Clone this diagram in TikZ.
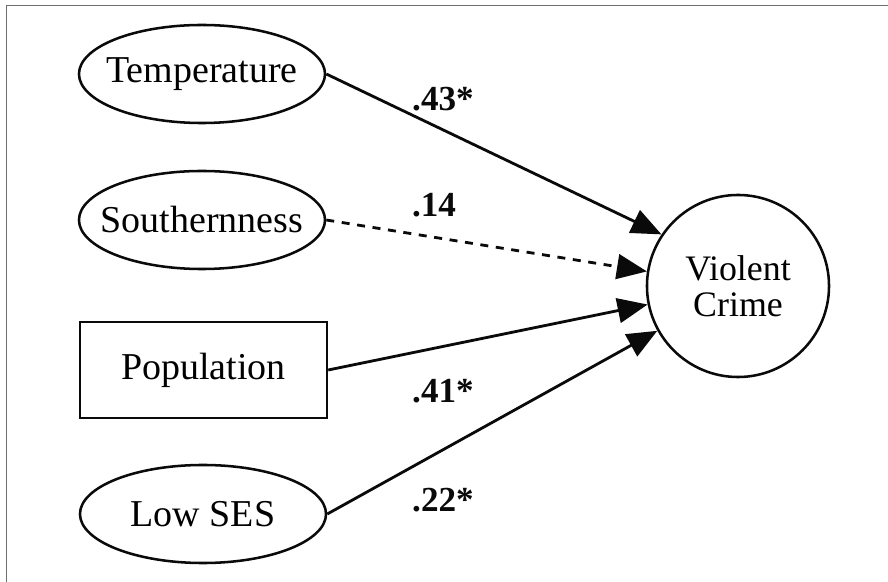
\documentclass[tikz,border=0pt]{standalone}
\usepackage{fontspec}
\setmainfont{Liberation Serif}
\usepackage{tikz}
\usetikzlibrary{shapes.geometric, arrows.meta, positioning}
\definecolor{mydark}{RGB}{10,10,10}
\definecolor{myframe}{RGB}{110,110,110}
\tikzset{
  latent/.style={ellipse, draw=mydark, fill=white,
    minimum width=6.15cm, minimum height=2.45cm, inner xsep=-1cm, inner ysep=0pt,
    font=\fontsize{27}{30}\selectfont, line width=1.8pt},
  observed/.style={rectangle, draw=mydark, fill=white,
    minimum width=6.17cm, minimum height=2.4cm, inner sep=0pt,
    font=\fontsize{27}{30}\selectfont, line width=1.8pt},
  outcome/.style={circle, draw=mydark, fill=white,
    minimum size=4.55cm, inner sep=0pt, align=center,
    font=\fontsize{25.5}{25.6}\selectfont, line width=1.8pt},
  arrow/.style={-{Triangle[length=0.75cm, width=0.62cm]}, line width=2pt, color=mydark},
  dasharrow/.style={arrow, dash pattern=on 0.2cm off 0.19cm},
  coef/.style={font=\fontsize{25}{28}\selectfont\bfseries, color=mydark, inner sep=0pt}
}

\begin{document}
\begin{tikzpicture}[x=0.025cm, y=-0.025cm]
  \useasboundingbox (0,0) rectangle (888,582);
  \clip (0,0) rectangle (888,582);
  % Frame
  \draw[color=myframe, line width=1.4pt] (6.5,5.5) rectangle (960,660);
  % Predictors
  \node[latent] (temp) at (202,74) {Temperature};
  \node[latent] (south) at (202,220) {Southernness};
  \node[observed] (pop) at (203.5,370) {Population};
  \node[latent] (lowses) at (203,514) {Low SES};
  % Outcome
  \node[outcome] (crime) at (738,286) {Violent\\Crime};
  % Paths
  \draw[arrow] (temp.east) -- (crime.146);
  \draw[dasharrow] (south.east) -- (crime);
  \draw[arrow] (pop.east) -- (crime);
  \draw[arrow] (lowses.east) -- (crime);
  % Coefficients
  \node[coef] (c43) at (443,99) {.43*};
  \node[coef] (c14) at (434,205) {.14};
  \node[coef] (c41) at (443,391) {.41*};
  \node[coef] (c22) at (443,500) {.22*};
\end{tikzpicture}
\end{document}
